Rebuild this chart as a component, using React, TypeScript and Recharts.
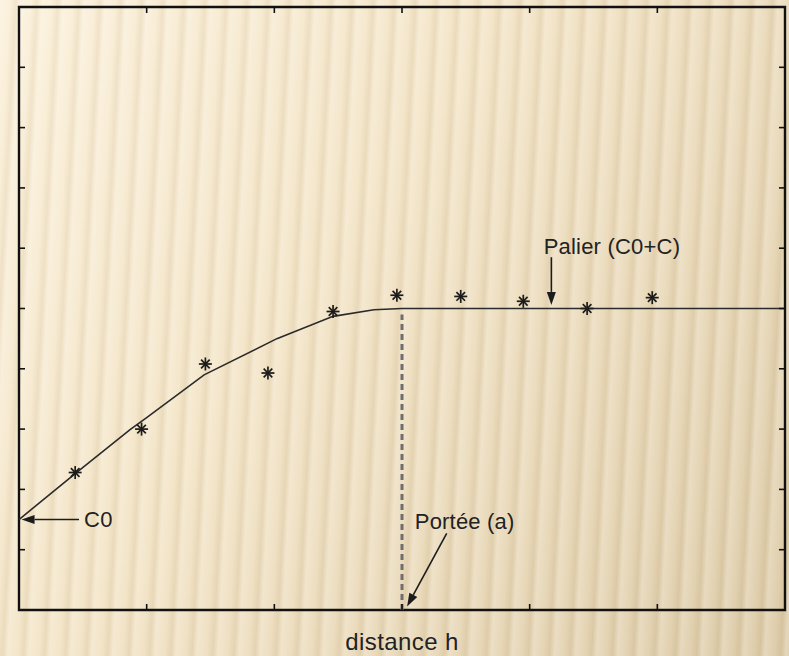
import React from "react";
import {
  ComposedChart,
  Line,
  Scatter,
  XAxis,
  YAxis,
  ReferenceLine,
  ReferenceDot,
  ReferenceArea,
} from "recharts";

// experimental variogram (asterisks)
const lagH = [0.44, 0.96, 1.46, 1.95, 2.46, 2.96, 3.46, 3.95, 4.45, 4.96];
const gammaExp = [2.28, 3.0, 4.08, 3.93, 4.95, 5.22, 5.2, 5.12, 5.0, 5.18];

// fitted model
const modelH = [0, 0.45, 0.87, 1.0, 1.45, 2.02, 2.46, 2.78, 3.0, 6.0];
const modelGamma = [1.5, 2.28, 2.99, 3.19, 3.9, 4.5, 4.87, 4.98, 5.0, 5.0];

const xTicks = [1, 2, 3, 4, 5];
const yTicks = [1, 2, 3, 4, 5, 6, 7, 8, 9];

const range = 3;
const sill = 5;

const notes = [
  { x: 0.51, y: 1.5, text: "C0" },
  { x: 4.11, y: 6.02, text: "Palier (C0+C)" },
  { x: 3.1, y: 1.46, text: "Portée (a)" },
];
const arrows = [
  { from: { x: 0.47, y: 1.5 }, to: { x: 0.02, y: 1.5 } },
  { from: { x: 4.17, y: 5.85 }, to: { x: 4.17, y: 5.06 } },
  { from: { x: 3.35, y: 1.27 }, to: { x: 3.04, y: 0.06 } },
];

const model = modelH.map((h, i) => ({ h, g: modelGamma[i] }));
const points = lagH.map((h, i) => ({ h, g: gammaExp[i] }));

const FONT = "'Liberation Sans', Arial, sans-serif";
const INK = "#1c1c1c";

const Asterisk = (props: any) => {
  const { cx, cy } = props;
  const r = 6.5;
  const d = 4.3;
  return (
    <g stroke={INK} strokeWidth={1.7}>
      <line x1={cx} y1={cy - r} x2={cx} y2={cy + r} />
      <line x1={cx - r} y1={cy} x2={cx + r} y2={cy} />
      <line x1={cx - d} y1={cy - d} x2={cx + d} y2={cy + d} />
      <line x1={cx - d} y1={cy + d} x2={cx + d} y2={cy - d} />
    </g>
  );
};

const Arrow = (props: any) => {
  const { x1, y1, x2, y2 } = props;
  const a = Math.atan2(y2 - y1, x2 - x1);
  const len = 13;
  const w = 4.5;
  const bx = x2 - len * Math.cos(a);
  const by = y2 - len * Math.sin(a);
  const px = -Math.sin(a) * w;
  const py = Math.cos(a) * w;
  return (
    <g>
      <line x1={x1} y1={y1} x2={bx} y2={by} stroke={INK} strokeWidth={1.6} />
      <polygon
        points={`${x2},${y2} ${bx + px},${by + py} ${bx - px},${by - py}`}
        fill={INK}
      />
    </g>
  );
};

const noteShape =
  (text: string, dy = 0, size = 22, anchor = "start", spacing = 0.2, baseline = "central") =>
  (props: any) => (
    <text
      x={props.cx}
      y={props.cy + dy}
      fontFamily={FONT}
      fontSize={size}
      letterSpacing={spacing}
      fill="#222"
      textAnchor={anchor}
      dominantBaseline={baseline}
    >
      {text}
    </text>
  );

// inward tick mark drawn at a point on the frame
const tickShape = (dx: number, dy: number) => (props: any) => (
  <line
    x1={props.cx}
    y1={props.cy}
    x2={props.cx + dx}
    y2={props.cy + dy}
    stroke="#111"
    strokeWidth={1.6}
  />
);

const NoTick = () => <g />;

export default function App() {
  const common = {
    tick: NoTick,
    tickLine: false,
    axisLine: false,
  };
  const T = 6;
  return (
    <div
      style={{
        position: "absolute",
        left: 0,
        top: 0,
        width: 789,
        height: 656,
        background:
          "repeating-linear-gradient(93deg, rgba(255,255,255,0.24) 0px, rgba(255,255,255,0.05) 10px, rgba(120,90,40,0.07) 16px, rgba(255,255,255,0.24) 21px), linear-gradient(125deg, #fbf0da 0%, #f3e4c6 40%, #e8d7b6 70%, #dccaa6 100%)",
      }}
    >
      <ComposedChart
        width={789}
        height={656}
        margin={{ top: 7, right: 4, bottom: 45, left: 18 }}
      >
        <XAxis type="number" dataKey="h" domain={[0, 6]} ticks={xTicks} height={1} {...common} />
        <YAxis type="number" domain={[0, 10]} ticks={yTicks} width={1} {...common} />
        <ReferenceArea
          x1={0}
          x2={6}
          y1={0}
          y2={10}
          fill="none"
          stroke="#111"
          strokeWidth={2.4}
          ifOverflow="visible"
        />
        {xTicks.map((t) => (
          <ReferenceDot key={`xb${t}`} x={t} y={0} r={0} shape={tickShape(0, -T)} />
        ))}
        {xTicks.map((t) => (
          <ReferenceDot key={`xt${t}`} x={t} y={10} r={0} shape={tickShape(0, T)} />
        ))}
        {yTicks.map((t) => (
          <ReferenceDot key={`yl${t}`} x={0} y={t} r={0} shape={tickShape(T, 0)} />
        ))}
        {yTicks.map((t) => (
          <ReferenceDot key={`yr${t}`} x={6} y={t} r={0} shape={tickShape(-T, 0)} />
        ))}
        <ReferenceLine
          segment={[
            { x: range, y: 0 },
            { x: range, y: sill - 0.1 },
          ]}
          stroke="#6e6e6e"
          strokeWidth={3}
          strokeDasharray="6 4"
        />
        <Line
          data={model}
          dataKey="g"
          type="linear"
          stroke="#2a2a2a"
          strokeWidth={1.6}
          dot={false}
          isAnimationActive={false}
        />
        <Scatter
          data={points}
          dataKey="g"
          shape={<Asterisk />}
          isAnimationActive={false}
        />
        {arrows.map((a, i) => (
          <ReferenceLine
            key={`a${i}`}
            segment={[a.from, a.to]}
            shape={<Arrow />}
            ifOverflow="visible"
          />
        ))}
        {notes.map((n, i) => (
          <ReferenceDot
            key={`n${i}`}
            x={n.x}
            y={n.y}
            r={0}
            shape={noteShape(n.text)}
            ifOverflow="visible"
          />
        ))}
        <ReferenceDot
          x={range}
          y={0}
          r={0}
          shape={noteShape("distance h", 40, 24, "middle", 0.4, "auto")}
          ifOverflow="visible"
        />
      </ComposedChart>
    </div>
  );
}
